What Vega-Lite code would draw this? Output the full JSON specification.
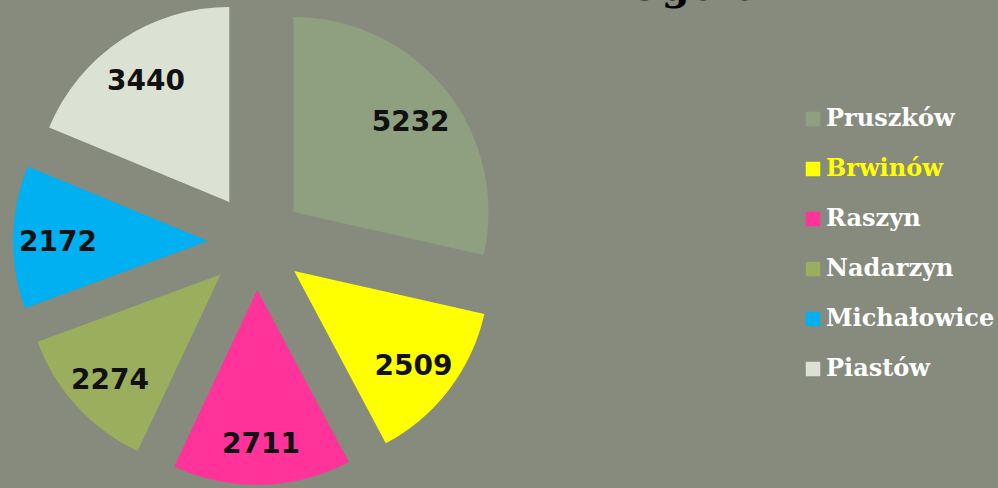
{
  "$schema": "https://vega.github.io/schema/vega-lite/v6.json",
  "width": 998,
  "height": 488,
  "autosize": {"type": "none"},
  "padding": 0,
  "background": "#878b7d",
  "config": {"view": {"stroke": null}},
  "title": {
    "text": "Ogółem",
    "anchor": "start",
    "frame": "group",
    "offset": -40,
    "dx": 627,
    "baseline": "alphabetic",
    "font": "DejaVu Serif",
    "fontWeight": "bold",
    "fontSize": 40,
    "color": "#000000"
  },
  "data": {
    "values": [
      {"gmina": "Pruszków", "value": 5232, "order": 1},
      {"gmina": "Brwinów", "value": 2509, "order": 2},
      {"gmina": "Raszyn", "value": 2711, "order": 3},
      {"gmina": "Nadarzyn", "value": 2274, "order": 4},
      {"gmina": "Michałowice", "value": 2172, "order": 5},
      {"gmina": "Piastów", "value": 3440, "order": 6}
    ]
  },
  "transform": [
    {"joinaggregate": [{"op": "sum", "field": "value", "as": "total"}]},
    {"window": [{"op": "sum", "field": "value", "as": "cum"}], "sort": [{"field": "order"}], "frame": [null, 0]},
    {"calculate": "sin(2*PI*(datum.cum - datum.value/2)/datum.total)", "as": "ex"},
    {"calculate": "-cos(2*PI*(datum.cum - datum.value/2)/datum.total)", "as": "ey"}
  ],
  "encoding": {
    "theta": {"field": "value", "type": "quantitative", "stack": true},
    "order": {"field": "order", "type": "quantitative"},
    "x": {"field": "ex", "type": "quantitative", "scale": {"domain": [-1, 1], "range": [208, 304], "nice": false, "zero": false}, "axis": null},
    "y": {"field": "ey", "type": "quantitative", "scale": {"domain": [-1, 1], "range": [194, 290], "nice": false, "zero": false}, "axis": null}
  },
  "layer": [
    {
      "mark": {"type": "arc", "outerRadius": 195},
      "encoding": {
        "color": {
          "field": "gmina",
          "type": "nominal",
          "sort": ["Pruszków", "Brwinów", "Raszyn", "Nadarzyn", "Michałowice", "Piastów"],
          "scale": {
            "domain": ["Pruszków", "Brwinów", "Raszyn", "Nadarzyn", "Michałowice", "Piastów"],
            "range": ["#8fa080", "#ffff00", "#ff3399", "#9bae5e", "#00b0f0", "#dce2d3"]
          },
          "legend": {
            "title": null,
            "orient": "none",
            "legendX": 801,
            "legendY": 107,
            "padding": 0,
            "symbolType": "square",
            "symbolSize": 210,
            "symbolStrokeWidth": 0,
            "symbolOpacity": 1,
            "labelFont": "DejaVu Serif",
            "labelFontWeight": "bold",
            "labelFontSize": 24,
            "labelColor": "#ffffff",
            "labelOffset": 1,
            "labelLimit": 300,
            "rowPadding": 26,
            "encode": {
              "labels": {
                "update": {
                  "fill": {"signal": "datum.value === 'Brwinów' ? '#ffff00' : '#ffffff'"}
                }
              }
            }
          }
        }
      }
    },
    {
      "mark": {"type": "text", "radius": 150, "dy": 5, "font": "DejaVu Sans", "fontWeight": "bold", "fontSize": 28, "color": "#111111"},
      "encoding": {
        "text": {"field": "value", "type": "quantitative", "format": "d"},
        "detail": {"field": "gmina", "type": "nominal"}
      }
    }
  ]
}
